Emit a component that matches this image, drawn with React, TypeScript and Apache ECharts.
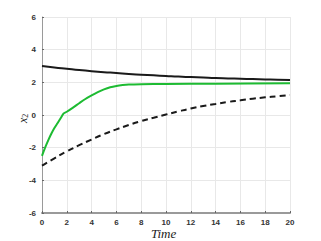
import React, { useEffect, useRef } from "react";
import * as echarts from "echarts";

const blackT = [0, 1, 2, 3, 4, 5, 6, 7, 8, 9, 10, 11, 12, 13, 14, 15, 16, 17, 18, 19, 20];
const blackV = [3.0, 2.91, 2.83, 2.75, 2.68, 2.62, 2.57, 2.51, 2.47, 2.43, 2.39, 2.35, 2.32, 2.29, 2.26, 2.24, 2.22, 2.2, 2.18, 2.16, 2.15];

const greenT = [0, 0.25, 0.5, 0.75, 1.0, 1.25, 1.5, 1.75, 2, 2.5, 3, 3.5, 4, 4.5, 5, 5.5, 6, 6.5, 7, 8, 10, 14, 20];
const greenV = [-2.5, -2.0, -1.55, -1.15, -0.8, -0.5, -0.2, 0.1, 0.2, 0.45, 0.72, 0.98, 1.2, 1.4, 1.57, 1.7, 1.78, 1.83, 1.86, 1.88, 1.9, 1.92, 1.95];

const dashT = [0, 1, 2, 3, 4, 5, 6, 7, 8, 9, 10, 11, 12, 13, 14, 15, 16, 17, 18, 19, 20];
const dashV = [-3.1, -2.65, -2.23, -1.85, -1.5, -1.17, -0.88, -0.61, -0.37, -0.17, 0.03, 0.22, 0.4, 0.55, 0.68, 0.8, 0.9, 1.0, 1.08, 1.15, 1.22];

const xTicks = { min: 0, max: 20, interval: 2 };
const yTicks = { min: -6, max: 6, interval: 2 };

const zip = (a: number[], b: number[]) => a.map((t, i) => [t, b[i]]);

export default function App() {
  const ref = useRef<HTMLDivElement>(null);
  useEffect(() => {
    if (!ref.current) return;
    const chart = echarts.init(ref.current, null, { renderer: "svg" });
    const axisLabel = { color: "#333", fontSize: 8, fontWeight: "bold" as const, fontFamily: "Liberation Sans" };
    chart.setOption({
      animation: false,
      backgroundColor: "#fff",
      grid: { left: 42, right: 31, top: 17, bottom: 28 },
      xAxis: {
        type: "value",
        ...xTicks,
        axisLine: { onZero: false, lineStyle: { color: "#9a9a9a", width: 2 } },
        axisTick: { inside: true, length: 2, lineStyle: { color: "#666" } },
        axisLabel: { ...axisLabel, margin: 5 },
        splitLine: { show: true, lineStyle: { color: "#e8e8e8", width: 1 } },
      },
      yAxis: {
        type: "value",
        ...yTicks,
        axisLine: { show: true, onZero: false, lineStyle: { color: "#9a9a9a", width: 1 } },
        axisTick: { show: true, inside: true, length: 2, lineStyle: { color: "#666" } },
        axisLabel: { ...axisLabel, margin: 6 },
        splitLine: { show: true, lineStyle: { color: "#e8e8e8", width: 1 } },
      },
      graphic: [
        {
          type: "text",
          left: 151,
          top: 227,
          style: { text: "Time", font: "italic 13px 'Liberation Serif'", fill: "#222" },
        },
        {
          type: "text",
          x: 16,
          y: 123,
          rotation: Math.PI / 2,
          style: {
            text: "{i|x}{s|2}",
            rich: {
              i: { font: "italic 12px 'Liberation Serif'", fill: "#222" },
              s: { font: "8px 'Liberation Serif'", fill: "#222", verticalAlign: "bottom", padding: [5, 0, 0, 0] },
            },
          },
        },
      ],
      series: [
        {
          type: "line",
          data: zip(blackT, blackV),
          showSymbol: false,
          smooth: true,
          lineStyle: { color: "#1a1a1a", width: 2 },
        },
        {
          type: "line",
          data: zip(greenT, greenV),
          showSymbol: false,
          smooth: 0.3,
          lineStyle: { color: "#1dbb32", width: 2 },
        },
        {
          type: "line",
          data: zip(dashT, dashV),
          showSymbol: false,
          smooth: true,
          lineStyle: { color: "#1a1a1a", width: 2, type: [6, 4] },
        },
      ],
    });
    return () => chart.dispose();
  }, []);
  return <div ref={ref} style={{ position: "fixed", left: 0, top: 0, width: 321, height: 241 }} />;
}
